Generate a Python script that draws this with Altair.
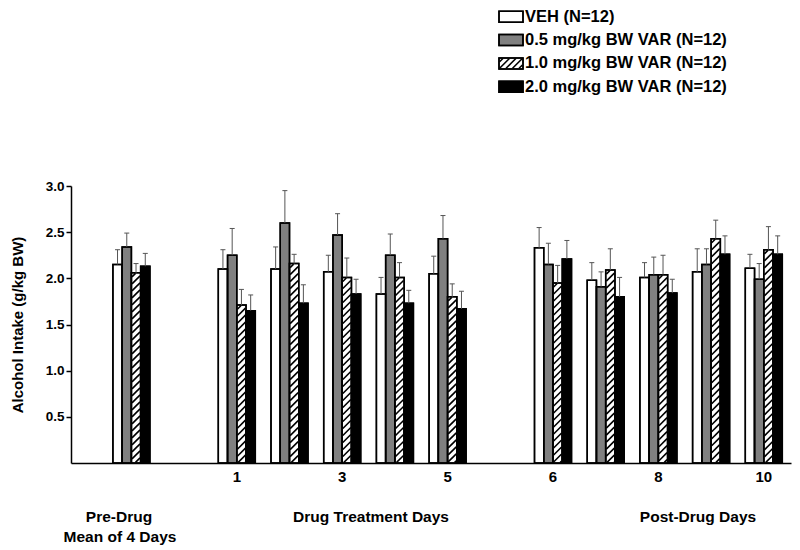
import altair as alt
import pandas as pd

# ---------------- data ----------------
series = ["VEH (N=12)", "0.5 mg/kg BW VAR (N=12)",
          "1.0 mg/kg BW VAR (N=12)", "2.0 mg/kg BW VAR (N=12)"]
groups = ["Pre-Drug", "1", "2", "3", "4", "5", "6", "7", "8", "9", "10"]
slots = [0, 2, 3, 4, 5, 6, 8, 9, 10, 11, 12]

veh = [2.15, 2.10, 2.10, 2.07, 1.83, 2.05, 2.33, 1.98, 2.01, 2.07, 2.11]
veh_err = [0.16, 0.21, 0.24, 0.18, 0.18, 0.19, 0.22, 0.19, 0.16, 0.25, 0.15]
var05 = [2.34, 2.25, 2.60, 2.47, 2.25, 2.43, 2.15, 1.91, 2.04, 2.15, 1.99]
var05_err = [0.15, 0.29, 0.35, 0.23, 0.23, 0.25, 0.23, 0.16, 0.19, 0.17, 0.17]
var10 = [2.06, 1.71, 2.16, 2.01, 2.01, 1.80, 1.95, 2.09, 2.04, 2.43, 2.31]
var10_err = [0.10, 0.17, 0.10, 0.21, 0.16, 0.14, 0.19, 0.23, 0.21, 0.20, 0.25]
var20 = [2.13, 1.65, 1.73, 1.83, 1.73, 1.67, 2.21, 1.80, 1.84, 2.26, 2.26]
var20_err = [0.14, 0.17, 0.20, 0.16, 0.14, 0.19, 0.20, 0.21, 0.15, 0.20, 0.20]

tick_days = ["1", "3", "5", "6", "8", "10"]
tick_slots = [2, 4, 6, 8, 10, 12]
y_ticks = [0.5, 1.0, 1.5, 2.0, 2.5, 3.0]

section_text = ["Pre-Drug", "Mean of 4 Days", "Drug Treatment Days", "Post-Drug Days"]

fills = ["white", "#808080", "white", "black"]
hatched = [False, False, True, False]

# ---------------- layout helpers ----------------
FONT = "Liberation Sans"
W, H = 720, 277
SLOT_PX = 52.7
X0 = -60.4 / SLOT_PX
X1 = X0 + W / SLOT_PX
YMAX = 3.0
BAR_PX = 9.25


def to_x(px):
    return X0 + px / SLOT_PX


def to_y(py):
    return (H - py) * YMAX / H


def px_of_x(x):
    return (x - X0) * SLOT_PX


def px_of_y(y):
    return H - y * H / YMAX


def hatch(xl, xr, yt, yb, period, inset=0.6):
    xl, xr, yt, yb = xl + inset, xr - inset, yt + inset, yb - inset
    segs = []
    c = xl + yt + period / 2
    while c < xr + yb:
        x0 = max(xl, c - yb)
        x1 = min(xr, c - yt)
        if x1 > x0:
            segs.append(dict(hx0=to_x(x0), hy0=to_y(c - x0),
                             hx1=to_x(x1), hy1=to_y(c - x1)))
        c += period
    return segs


xs = alt.Scale(domain=[X0, X1], nice=False, zero=False)
ys = alt.Scale(domain=[0, YMAX], nice=False, zero=False)
cs = alt.Scale(domain=series, range=fills)

y_axis = alt.Axis(values=y_ticks, format=".1f", grid=False,
                  labelFont=FONT, labelFontWeight="bold", labelFontSize=13.5,
                  labelColor="black", labelPadding=2,
                  tickSize=5, tickColor="black", tickWidth=1.5,
                  domainColor="black", domainWidth=1.5,
                  title="Alcohol Intake (g/kg BW)", titleFont=FONT,
                  titleFontSize=15, titleFontWeight="bold", titleColor="black",
                  titleX=-54, titleY=H / 2, titleAngle=270,
                  titleAlign="center", titleBaseline="middle")
x_axis = alt.Axis(labels=False, ticks=False, grid=False, title=None,
                  domainColor="black", domainWidth=1.5)


def X(field):
    return alt.X(field, scale=xs, axis=x_axis)


def Y(field):
    return alt.Y(field, scale=ys, axis=y_axis)


means = [veh, var05, var10, var20]
errs = [veh_err, var05_err, var10_err, var20_err]

rows = []
hatch_rows = []
for si, name in enumerate(series):
    for g, s, v, e in zip(groups, slots, means[si], errs[si]):
        left_px = px_of_x(s) - 2 * BAR_PX + si * BAR_PX
        right_px = left_px + BAR_PX
        cx = left_px + BAR_PX / 2
        rows.append(dict(series=name, group=g, x=to_x(left_px), x2=to_x(right_px),
                         xc=to_x(cx), capl=to_x(cx - 2.5), capr=to_x(cx + 2.5),
                         v=v, zero=0.0, top=v + e))
        if hatched[si]:
            hatch_rows += hatch(left_px, right_px, px_of_y(v), px_of_y(0), 7.0)
df = pd.DataFrame(rows)
hdf = pd.DataFrame(hatch_rows)

# ---------------- layers ----------------
bars = alt.Chart(df).mark_rect(stroke="black", strokeWidth=1.5).encode(
    x=X("x:Q"), x2="x2:Q", y=Y("v:Q"), y2="zero:Q",
    fill=alt.Fill("series:N", scale=cs, legend=None),
)

stripes = alt.Chart(hdf).mark_rule(color="black", strokeWidth=1.6).encode(
    x=X("hx0:Q"), x2="hx1:Q", y=Y("hy0:Q"), y2="hy1:Q",
)

outlines = alt.Chart(df).mark_rect(stroke="black", strokeWidth=1.5,
                                   fill="white", fillOpacity=0).encode(
    x=X("x:Q"), x2="x2:Q", y=Y("v:Q"), y2="zero:Q",
)

err_lines = alt.Chart(df).mark_rule(color="#555555", strokeWidth=1).encode(
    x=X("xc:Q"), y=Y("v:Q"), y2="top:Q",
)
err_caps = alt.Chart(df).mark_rule(color="#555555", strokeWidth=1).encode(
    x=X("capl:Q"), x2="capr:Q", y=Y("top:Q"),
)

# day tick labels
tick_df = pd.DataFrame(dict(x=tick_slots, t=tick_days, y=to_y(291)))
tick_text = alt.Chart(tick_df).mark_text(font=FONT, fontSize=15, fontWeight="bold",
                                         color="black", baseline="middle",
                                         align="center").encode(
    x=X("x:Q"), y=Y("y:Q"), text="t:N",
)

# section labels
sec_df = pd.DataFrame(dict(
    t=section_text,
    x=[to_x(48), to_x(49), to_x(300), to_x(627)],
    y=[to_y(331), to_y(351), to_y(331), to_y(331)],
))
sec_text = alt.Chart(sec_df).mark_text(font=FONT, fontSize=15.5, fontWeight="bold",
                                       color="black", baseline="middle",
                                       align="center").encode(
    x=X("x:Q"), y=Y("y:Q"), text="t:N",
)

# legend (drawn above the plot area)
leg_rows = []
leg_hatch = []
for i, name in enumerate(series):
    cy = -169.3 + 23.35 * i
    leg_rows.append(dict(series=name, x=to_x(428), x2=to_x(452),
                         y=to_y(cy - 5.5), y2=to_y(cy + 5.5),
                         tx=to_x(454), ty=to_y(cy)))
    if hatched[i]:
        leg_hatch += hatch(428, 452, cy - 5.5, cy + 5.5, 6.5)
ldf = pd.DataFrame(leg_rows)
lhdf = pd.DataFrame(leg_hatch)

leg_box = alt.Chart(ldf).mark_rect(stroke="black", strokeWidth=1.5).encode(
    x=X("x:Q"), x2="x2:Q", y=Y("y:Q"), y2="y2:Q",
    fill=alt.Fill("series:N", scale=cs, legend=None),
)
leg_stripes = alt.Chart(lhdf).mark_rule(color="black", strokeWidth=1.6).encode(
    x=X("hx0:Q"), x2="hx1:Q", y=Y("hy0:Q"), y2="hy1:Q",
)
leg_outline = alt.Chart(ldf).mark_rect(stroke="black", strokeWidth=1.5,
                                       fill="white", fillOpacity=0).encode(
    x=X("x:Q"), x2="x2:Q", y=Y("y:Q"), y2="y2:Q",
)
leg_text = alt.Chart(ldf).mark_text(font=FONT, fontSize=16.5, fontWeight="bold",
                                    color="black", align="left",
                                    baseline="middle").encode(
    x=X("tx:Q"), y=Y("ty:Q"), text="series:N",
)

chart = alt.layer(
    bars, stripes, outlines, err_lines, err_caps,
    tick_text, sec_text,
    leg_box, leg_stripes, leg_outline, leg_text,
).properties(
    width=W, height=H,
    padding={"left": 63, "top": 178, "right": 1, "bottom": 88},
    autosize=alt.AutoSizeParams(type="none"),
    background="white",
).configure_view(stroke=None)

chart.save("out.html", embed_options={"renderer": "svg", "actions": False})
